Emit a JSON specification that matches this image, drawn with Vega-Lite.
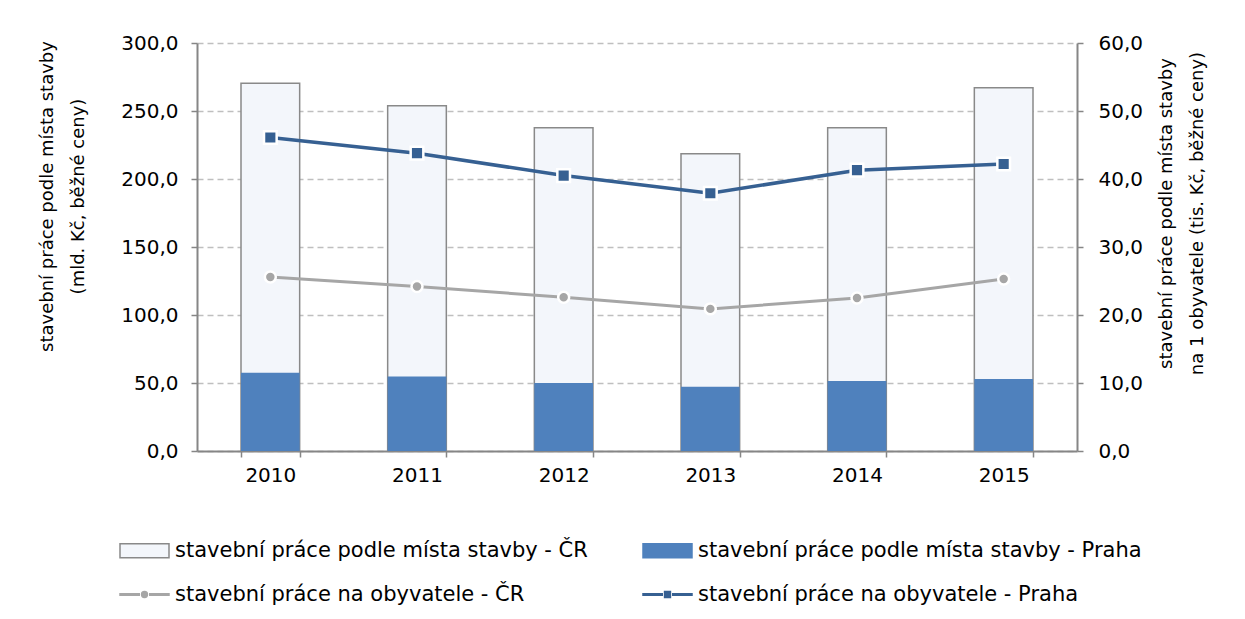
{
  "$schema": "https://vega.github.io/schema/vega-lite/v6.json",
  "autosize": "none",
  "width": 880,
  "height": 408,
  "padding": {"left": 197, "top": 43, "right": 168, "bottom": 168},
  "background": "white",
  "config": {
    "font": "DejaVu Sans",
    "view": {"stroke": null},
    "axis": {
      "labelFontSize": 20,
      "labelColor": "#000000",
      "titleFontSize": 18,
      "titleFontWeight": "normal",
      "titleColor": "#000000",
      "domainColor": "#868686",
      "domainWidth": 2,
      "tickColor": "#868686",
      "tickWidth": 1.5,
      "tickSize": 6
    }
  },
  "data": {
    "values": [
      {"year": "2010", "series": "stavební práce podle místa stavby - ČR", "value": 270.4},
      {"year": "2011", "series": "stavební práce podle místa stavby - ČR", "value": 253.9},
      {"year": "2012", "series": "stavební práce podle místa stavby - ČR", "value": 237.7},
      {"year": "2013", "series": "stavební práce podle místa stavby - ČR", "value": 218.6},
      {"year": "2014", "series": "stavební práce podle místa stavby - ČR", "value": 237.7},
      {"year": "2015", "series": "stavební práce podle místa stavby - ČR", "value": 267.1},
      {"year": "2010", "series": "stavební práce podle místa stavby - Praha", "value": 57.6},
      {"year": "2011", "series": "stavební práce podle místa stavby - Praha", "value": 54.7},
      {"year": "2012", "series": "stavební práce podle místa stavby - Praha", "value": 50.0},
      {"year": "2013", "series": "stavební práce podle místa stavby - Praha", "value": 47.3},
      {"year": "2014", "series": "stavební práce podle místa stavby - Praha", "value": 51.5},
      {"year": "2015", "series": "stavební práce podle místa stavby - Praha", "value": 52.9},
      {"year": "2010", "series": "stavební práce na obyvatele - ČR", "value": 25.6},
      {"year": "2011", "series": "stavební práce na obyvatele - ČR", "value": 24.2},
      {"year": "2012", "series": "stavební práce na obyvatele - ČR", "value": 22.6},
      {"year": "2013", "series": "stavební práce na obyvatele - ČR", "value": 20.9},
      {"year": "2014", "series": "stavební práce na obyvatele - ČR", "value": 22.5},
      {"year": "2015", "series": "stavební práce na obyvatele - ČR", "value": 25.3},
      {"year": "2010", "series": "stavební práce na obyvatele - Praha", "value": 46.1},
      {"year": "2011", "series": "stavební práce na obyvatele - Praha", "value": 43.8},
      {"year": "2012", "series": "stavební práce na obyvatele - Praha", "value": 40.5},
      {"year": "2013", "series": "stavební práce na obyvatele - Praha", "value": 37.9},
      {"year": "2014", "series": "stavební práce na obyvatele - Praha", "value": 41.3},
      {"year": "2015", "series": "stavební práce na obyvatele - Praha", "value": 42.2}
    ]
  },
  "encoding": {
    "x": {
      "field": "year",
      "type": "ordinal",
      "scale": {"paddingInner": 0.6, "paddingOuter": 0.3},
      "axis": {
        "title": null,
        "labelAngle": 0,
        "labelPadding": 8,
        "tickBand": "extent",
        "grid": false
      }
    }
  },
  "layer": [
    {
      "encoding": {
        "y": {
          "field": "value",
          "type": "quantitative",
          "stack": null,
          "scale": {"domain": [0, 300], "nice": false},
          "axis": {
            "orient": "left",
            "values": [0, 50, 100, 150, 200, 250, 300],
            "labelExpr": "replace(format(datum.value, '.1f'), '.', ',')",
            "labelPadding": 13,
            "grid": true,
            "gridColor": "#bfbfbf",
            "gridDash": [6, 4],
            "gridWidth": 1.5,
            "title": ["stavební práce podle místa stavby", "(mld. Kč, běžné ceny)"],
            "titleAngle": -90,
            "titleBaseline": "top",
            "titleAlign": "center",
            "titleAnchor": "middle",
            "titleLineHeight": 31,
            "titleX": -159,
            "titleY": 153
          }
        }
      },
      "layer": [
        {
          "transform": [{"filter": "datum.series == 'stavební práce podle místa stavby - ČR'"}],
          "mark": {"type": "bar", "fill": "#f3f6fb", "stroke": "#898989", "strokeWidth": 1.5}
        },
        {
          "transform": [{"filter": "datum.series == 'stavební práce podle místa stavby - Praha'"}],
          "mark": {"type": "bar", "fill": "#4f81bd"}
        },
        {
          "mark": {
            "type": "point",
            "filled": true,
            "opacity": 0,
            "fill": {"expr": "datum.index == 0 ? '#f3f6fb' : datum.index == 1 ? '#4f81bd' : datum.index == 2 ? '#a6a6a6' : '#366092'"},
            "stroke": {"expr": "datum.index == 0 ? '#898989' : datum.index == 1 ? '#4f81bd' : datum.index == 2 ? '#a6a6a6' : '#366092'"}
          },
          "encoding": {
            "shape": {
              "field": "series",
              "type": "nominal",
              "scale": {
                "domain": [
                  "stavební práce podle místa stavby - ČR",
                  "stavební práce podle místa stavby - Praha",
                  "stavební práce na obyvatele - ČR",
                  "stavební práce na obyvatele - Praha"
                ],
                "range": [
                  "M-3.5,-1H3.5V1H-3.5Z",
                  "M-3.5,-1H3.5V1H-3.5Z",
                  "M-3.5,-0.1H-0.75V0.1H-3.5Z M0.75,-0.1H3.5V0.1H0.75Z M0.42,0A0.42,0.42,0,1,1,-0.42,0A0.42,0.42,0,1,1,0.42,0Z",
                  "M-3.5,-0.1H-0.75V0.1H-3.5Z M0.75,-0.1H3.5V0.1H0.75Z M-0.42,-0.42H0.42V0.42H-0.42Z"
                ]
              },
              "legend": {
                "title": null,
                "orient": "none",
                "legendX": -79,
                "legendY": 497,
                "direction": "horizontal",
                "columns": 2,
                "columnPadding": 52,
                "rowPadding": 22,
                "labelFontSize": 21,
                "labelColor": "#000000",
                "labelLimit": 700,
                "symbolSize": 196,
                "symbolOpacity": 1,
                "symbolStrokeWidth": 1.5,
                "symbolOffset": 16,
                "labelOffset": 20,
                "encode": {
                  "symbols": {
                    "update": {
                      "size": {"value": 196},
                      "opacity": {"value": 1}
                    }
                  }
                }
              }
            }
          }
        }
      ]
    },
    {
      "encoding": {
        "y": {
          "field": "value",
          "type": "quantitative",
          "scale": {"domain": [0, 60], "nice": false},
          "axis": {
            "orient": "right",
            "values": [0, 10, 20, 30, 40, 50, 60],
            "labelExpr": "replace(format(datum.value, '.1f'), '.', ',')",
            "labelPadding": 15,
            "grid": false,
            "title": ["stavební práce podle místa stavby", "na 1 obyvatele (tis. Kč, běžné ceny)"],
            "titleAngle": -90,
            "titleBaseline": "top",
            "titleAlign": "center",
            "titleAnchor": "middle",
            "titleLineHeight": 31,
            "titleX": 80,
            "titleY": 170
          }
        }
      },
      "layer": [
        {
          "transform": [{"filter": "datum.series == 'stavební práce na obyvatele - ČR'"}],
          "mark": {"type": "line", "stroke": "#a6a6a6", "strokeWidth": 3}
        },
        {
          "transform": [{"filter": "datum.series == 'stavební práce na obyvatele - Praha'"}],
          "mark": {"type": "line", "stroke": "#366092", "strokeWidth": 3.5}
        },
        {
          "transform": [{"filter": "datum.series == 'stavební práce na obyvatele - ČR'"}],
          "mark": {"type": "point", "shape": "circle", "filled": true, "fill": "#a6a6a6", "size": 120, "stroke": "white", "strokeWidth": 2.5, "opacity": 1}
        },
        {
          "transform": [{"filter": "datum.series == 'stavební práce na obyvatele - Praha'"}],
          "mark": {"type": "point", "shape": "square", "filled": true, "fill": "#366092", "size": 160, "stroke": "white", "strokeWidth": 2.5, "opacity": 1}
        }
      ]
    }
  ],
  "resolve": {"scale": {"y": "independent"}}
}
